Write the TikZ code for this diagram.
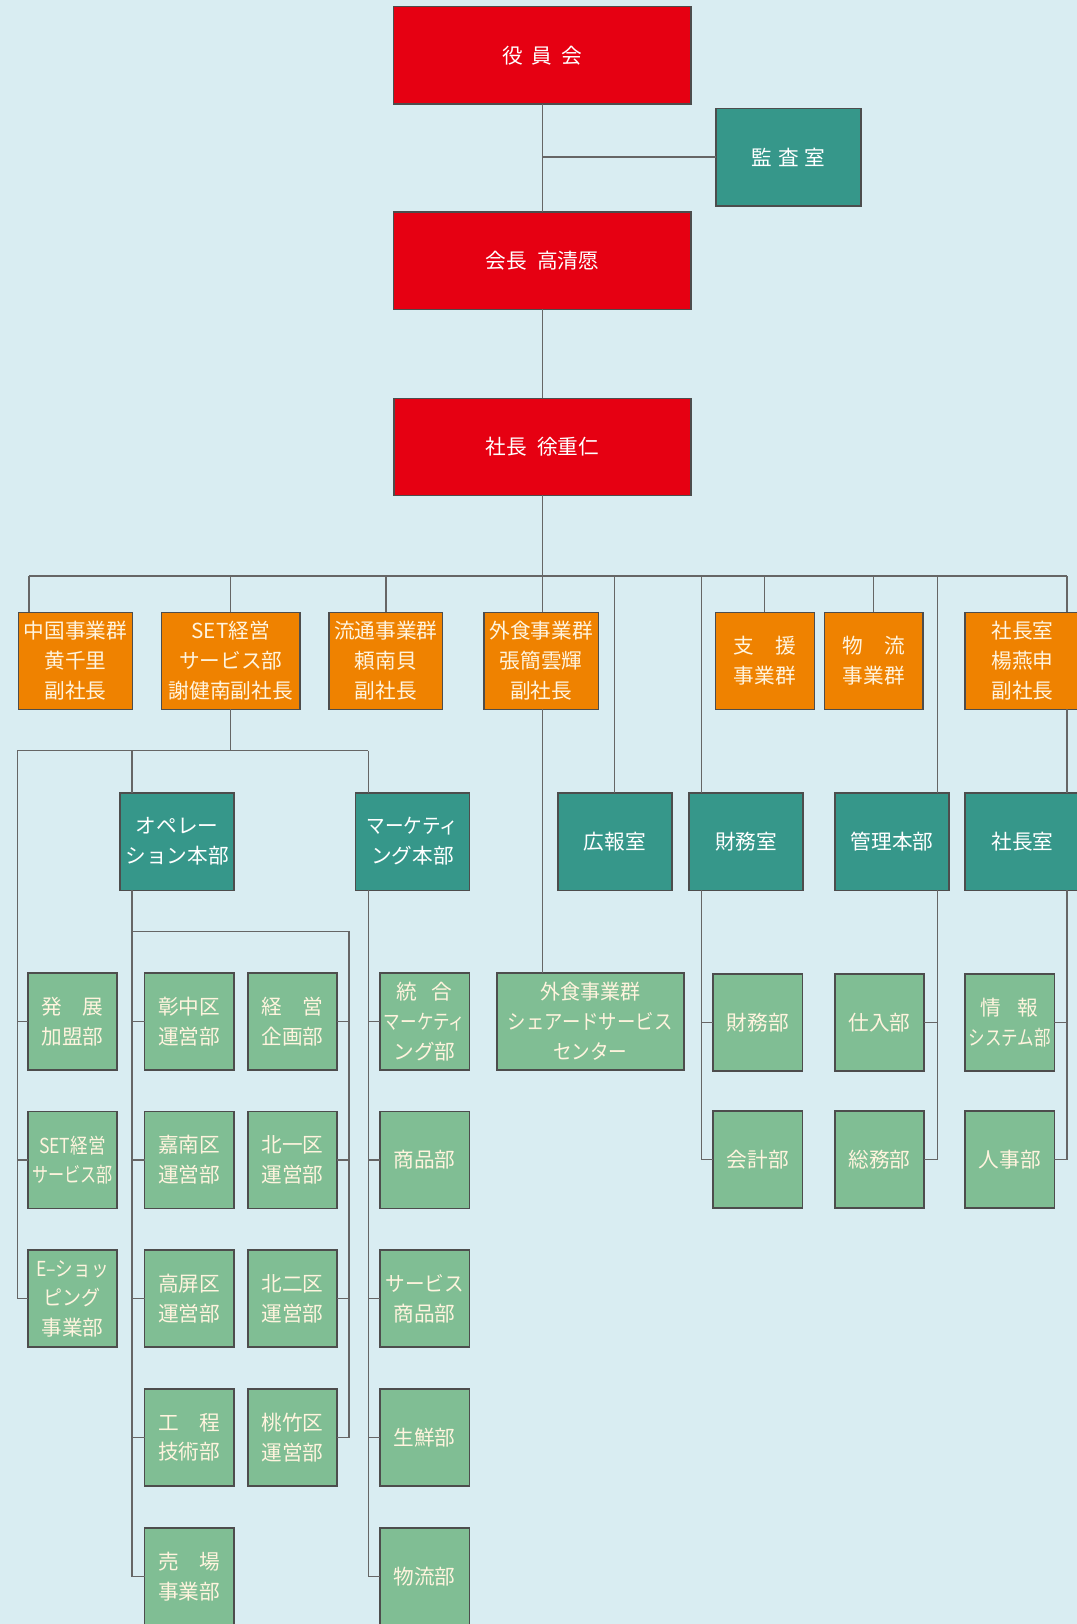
\documentclass[tikz,border=0pt]{standalone}
\usepackage{fontspec}
\setmainfont{Noto Sans CJK JP}
\usepackage{graphicx}
\definecolor{bgc}{HTML}{D9EDF2}
\definecolor{redc}{HTML}{E60012}
\definecolor{orangec}{HTML}{EF8200}
\definecolor{tealc}{HTML}{36978A}
\definecolor{greenc}{HTML}{80BE94}
\definecolor{bordc}{HTML}{4D4D4D}
\definecolor{linec}{HTML}{666666}
\definecolor{creamc}{HTML}{FFF4DE}
\newcommand{\cx}[2]{\scalebox{#1}[1]{#2}}
\tikzset{
  bx/.style={draw=bordc, line width=1.2pt, inner sep=0pt, outer sep=0pt, align=center,
    font=\fontsize{15.5}{22.3}\selectfont},
  sz/.style 2 args={minimum width=#1*0.75pt, minimum height=#2*0.75pt},
  rbox/.style={bx, fill=redc, text=white},
  obox/.style={bx, fill=orangec, text=creamc},
  tbox/.style={bx, fill=tealc, text=white},
  gbox/.style={bx, fill=greenc, text=creamc, sz={89.3}{97}},
  conn/.style={draw=linec, line width=1pt}
}
\begin{document}
\begin{tikzpicture}[x=0.75pt,y=-0.75pt]
\clip (0,0) rectangle (1077,1624);
\fill[bgc] (0,0) rectangle (1077,1624);

% top
\node[rbox, sz={297.5}{97.7}] (yakuin) at (542.3,55.2) {役\hspace{0.45em}員\hspace{0.45em}会};
\node[tbox, sz={145.3}{97.4}] (kansa) at (788.4,157) {監\hspace{0.3em}査\hspace{0.3em}室};
\node[rbox, sz={297.5}{97.6}] (kaicho) at (542.3,260.5) {会長\hspace{0.5em}高清愿};
\node[rbox, sz={297}{97}] (shacho) at (542.3,446.8) {社長\hspace{0.5em}徐重仁};

% orange row
\node[obox, sz={114.3}{97}] (chugoku) at (75.45,660.8) {中国事業群\\黄千里\\副社長};
\node[obox, sz={138.5}{97}] (set) at (230.75,660.8) {SET経営\\サービス部\\謝健南副社長};
\node[obox, sz={113.3}{97}] (ryutsu) at (385.85,660.8) {流通事業群\\頼南貝\\副社長};
\node[obox, sz={114.2}{97}] (gaishoku) at (541.3,660.8) {外食事業群\\張簡雲輝\\副社長};
\node[obox, sz={99}{97}] (shien) at (764.8,660.8) {支\hspace{1em}援\\事業群};
\node[obox, sz={98.3}{97}] (butsuryu) at (873.75,660.8) {物\hspace{1em}流\\事業群};
\node[obox, sz={115}{97}] (shachoO) at (1022.5,660.8) {社長室\\楊燕申\\副社長};

% teal row
\node[tbox, sz={113.6}{97.6}] (ope) at (177,841.5) {オペレー\\ション本部};
\node[tbox, sz={114}{97.6}] (mark) at (412.4,841.5) {\cx{0.9}{マーケティ}\\ング本部};
\node[tbox, sz={113.8}{97.6}] (koho) at (614.8,841.5) {広報室};
\node[tbox, sz={113.9}{97.6}] (zaimushitsu) at (746,841.5) {財務室};
\node[tbox, sz={113.8}{97.6}] (kanri) at (892,841.5) {管理本部};
\node[tbox, sz={115}{97.6}] (shachoT) at (1022.5,841.5) {社長室};

% green boxes
\node[gbox] (hatten) at (72.35,1021.5) {発\hspace{1em}展\\加盟部};
\node[gbox] (setsvc) at (72.35,1160) {\cx{0.85}{SET経営}\\\cx{0.78}{サービス部}};
\node[gbox] (eshop) at (72.35,1298.7) {\cx{0.85}{E–ショッ}\\\cx{0.92}{ピング}\\事業部};
\node[gbox] (shochu) at (189.2,1021.5) {彰中区\\運営部};
\node[gbox] (kanan) at (189.2,1160) {嘉南区\\運営部};
\node[gbox] (kohei) at (189.2,1298.7) {高屏区\\運営部};
\node[gbox] (kotei) at (189.2,1437.3) {工\hspace{1em}程\\技術部};
\node[gbox] (uriba) at (189.2,1576.3) {売\hspace{1em}場\\事業部};
\node[gbox] (keiei) at (292.6,1021.5) {経\hspace{1em}営\\企画部};
\node[gbox] (hokuichi) at (292.6,1160) {北一区\\運営部};
\node[gbox] (hokuni) at (292.6,1298.7) {北二区\\運営部};
\node[gbox] (momo) at (292.6,1437.3) {桃竹区\\運営部};
\node[gbox] (togo) at (424.65,1021.5) {統\hspace{0.7em}合\\\cx{0.8}{マーケティ}\\ング部};
\node[gbox] (shohin) at (424.65,1160) {商品部};
\node[gbox] (svcshohin) at (424.65,1298.7) {\cx{0.95}{サービス}\\商品部};
\node[gbox] (sensen) at (424.65,1437.3) {生鮮部};
\node[gbox] (butsuryubu) at (424.65,1576.3) {物流部};
\node[gbox, sz={187}{97.3}] (gaiS) at (590.2,1021.4) {\cx{0.97}{外食事業群}\\\cx{0.89}{シェアードサービス}\\\cx{0.9}{センター}};
\node[gbox] (zaimubu) at (757.85,1022.6) {財務部};
\node[gbox] (kaikei) at (757.85,1159.7) {会計部};
\node[gbox] (shiire) at (879.6,1022.6) {仕入部};
\node[gbox] (somu) at (879.6,1159.7) {総務部};
\node[gbox] (joho) at (1009.7,1022.6) {情\hspace{0.8em}報\\\cx{0.8}{システム部}};
\node[gbox] (jinji) at (1009.7,1159.7) {人事部};

% top connectors
\coordinate (j1) at (yakuin.south |- kansa.west);
\draw[conn] (yakuin.south) -- (kaicho.north);
\draw[conn] (j1) -- (kansa.west);
\draw[conn] (kaicho.south) -- (shacho.north);
\draw[conn] (shacho.south) -- (shacho.south |- gaishoku.north);
\draw[conn] (shacho.south |- gaishoku.south) -- (shacho.south |- gaiS.north);

% bus
\coordinate (busL) at (28.9,576);
\coordinate (busR) at (1067,576);
\coordinate (zx) at (701.5,576);
\coordinate (kx) at (937.3,576);
\draw[conn] (busL) -- (busR);
\draw[conn] (busL) -- (busL |- chugoku.north);
\draw[conn] (set.north |- busL) -- (set.north);
\draw[conn] (ryutsu.north |- busL) -- (ryutsu.north);
\draw[conn] (koho.north |- busL) -- (koho.north);
\draw[conn] (zx) -- (zx |- zaimushitsu.north);
\draw[conn] (shien.north |- busL) -- (shien.north);
\draw[conn] (butsuryu.north |- busL) -- (butsuryu.north);
\draw[conn] (kx) -- (kx |- kanri.north);
\draw[conn] (busR) -- (busR |- shachoO.north);
\draw[conn] (busR |- shachoO.south) -- (busR |- shachoT.north);

% right columns
\draw[conn] (busR |- shachoT.south) -- (busR |- jinji.east) -- (jinji.east);
\draw[conn] (busR |- joho.east) -- (joho.east);
\draw[conn] (zx |- zaimushitsu.south) -- (zx |- kaikei.west) -- (kaikei.west);
\draw[conn] (zx |- zaimubu.west) -- (zaimubu.west);
\draw[conn] (kx |- kanri.south) -- (kx |- somu.east) -- (somu.east);
\draw[conn] (kx |- shiire.east) -- (shiire.east);

% SET branch
\coordinate (sL) at (17.2,750.7);
\coordinate (sR) at (368.2,750.7);
\coordinate (oX) at (131.9,750.7);
\coordinate (oH) at (131.9,931.7);
\coordinate (oHR) at (348.9,931.7);
\draw[conn] (set.south) -- (set.south |- sL);
\draw[conn] (sL) -- (sR);
\draw[conn] (sL) -- (sL |- eshop.west) -- (eshop.west);
\draw[conn] (sL |- hatten.west) -- (hatten.west);
\draw[conn] (sL |- setsvc.west) -- (setsvc.west);
\draw[conn] (oX) -- (oX |- ope.north);
\draw[conn] (sR) -- (sR |- mark.north);
\draw[conn] (oX |- ope.south) -- (oX |- uriba.west) -- (uriba.west);
\draw[conn] (oX |- shochu.west) -- (shochu.west);
\draw[conn] (oX |- kanan.west) -- (kanan.west);
\draw[conn] (oX |- kohei.west) -- (kohei.west);
\draw[conn] (oX |- kotei.west) -- (kotei.west);
\draw[conn] (oH) -- (oHR) -- (oHR |- momo.east) -- (momo.east);
\draw[conn] (keiei.east) -- (oHR |- keiei.east);
\draw[conn] (hokuichi.east) -- (oHR |- hokuichi.east);
\draw[conn] (hokuni.east) -- (oHR |- hokuni.east);
\draw[conn] (sR |- mark.south) -- (sR |- butsuryubu.west) -- (butsuryubu.west);
\draw[conn] (sR |- togo.west) -- (togo.west);
\draw[conn] (sR |- shohin.west) -- (shohin.west);
\draw[conn] (sR |- svcshohin.west) -- (svcshohin.west);
\draw[conn] (sR |- sensen.west) -- (sensen.west);
\end{tikzpicture}
\end{document}
